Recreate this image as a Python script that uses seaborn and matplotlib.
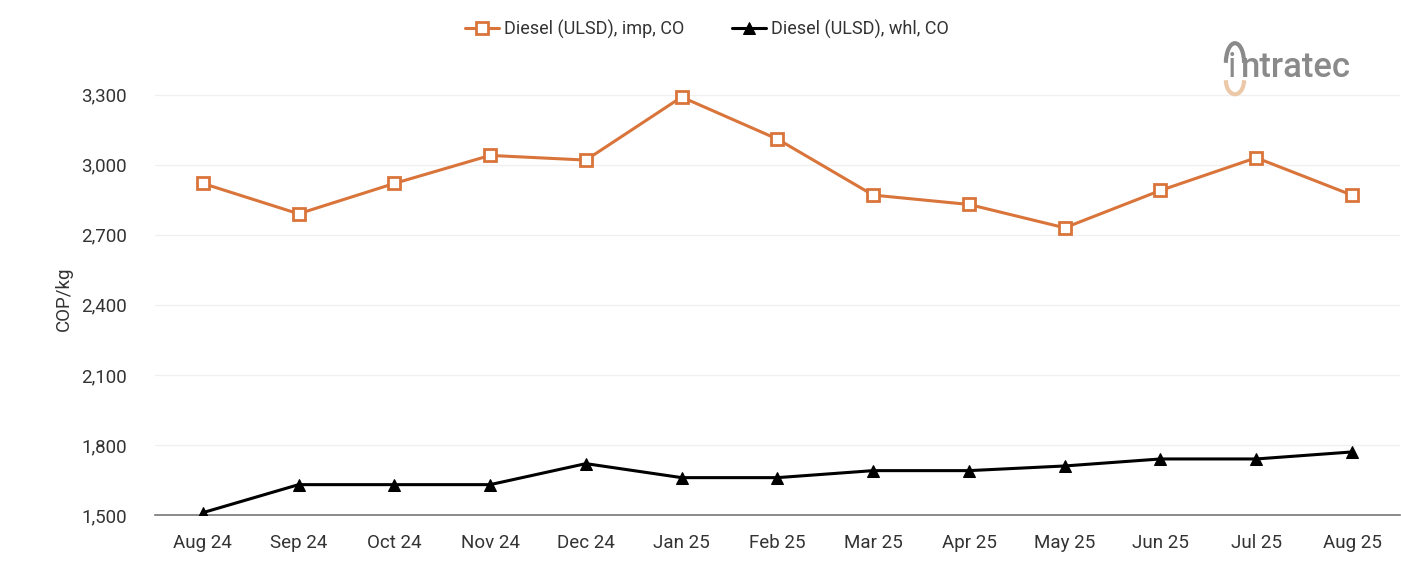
import matplotlib
matplotlib.use("Agg")
import matplotlib.pyplot as plt
import seaborn as sns
import pandas as pd
from matplotlib.ticker import FuncFormatter
from matplotlib.patches import Arc

months = ["Aug 24", "Sep 24", "Oct 24", "Nov 24", "Dec 24", "Jan 25", "Feb 25",
          "Mar 25", "Apr 25", "May 25", "Jun 25", "Jul 25", "Aug 25"]
imp_values = [2920, 2790, 2920, 3040, 3020, 3290, 3110, 2870, 2830, 2730, 2890, 3030, 2870]
whl_values = [1510, 1630, 1630, 1630, 1720, 1660, 1660, 1690, 1690, 1710, 1740, 1740, 1770]
imp_label = "Diesel (ULSD), imp, CO"
whl_label = "Diesel (ULSD), whl, CO"
y_ticks = [1500, 1800, 2100, 2400, 2700, 3000, 3300]

sns.set_theme(style="white")
plt.rcParams['font.family'] = ['Roboto', 'DejaVu Sans']

df_imp = pd.DataFrame({"x": range(len(months)), "y": imp_values})
df_whl = pd.DataFrame({"x": range(len(months)), "y": whl_values})

fig = plt.figure(figsize=(14.01, 5.61), dpi=100)
ax = fig.add_axes([0.1106, 0.082, 0.8886, 0.770])

orange = "#D9743A"
sns.lineplot(data=df_imp, x="x", y="y", ax=ax, color=orange, linewidth=2.2,
             marker="s", markersize=8, markerfacecolor="white",
             markeredgecolor=orange, markeredgewidth=2, label=imp_label, legend=False)
sns.lineplot(data=df_whl, x="x", y="y", ax=ax, color="black", linewidth=2.2,
             marker="^", markersize=9, markerfacecolor="black",
             markeredgecolor="black", label=whl_label, legend=False)

ax.set_xlim(-0.5, len(months) - 0.5)
ax.set_ylim(1500, 3350)
ax.set_xticks(range(len(months)))
ax.set_xticklabels(months)
ax.set_yticks(y_ticks)
ax.yaxis.set_major_formatter(FuncFormatter(lambda v, p: f"{int(v):,}"))
ax.tick_params(axis="both", labelsize=13.5, colors="#333333", length=0)
ax.tick_params(axis="x", pad=14)
ax.tick_params(axis="y", pad=20)
ax.set_xlabel("")
ax.set_ylabel("COP/kg", fontsize=13.5, color="#333333", labelpad=6)
ax.grid(axis="y", color="#f0f0f0", linewidth=1)
ax.set_axisbelow(True)
for s in ["top", "right", "left"]:
    ax.spines[s].set_visible(False)
ax.spines["bottom"].set_color("#777777")
ax.spines["bottom"].set_linewidth(1.2)
ax.spines["bottom"].set_zorder(1)

handles = ax.get_lines()[:2]
leg = fig.legend(handles=handles, labels=[imp_label, whl_label], loc="center",
                 bbox_to_anchor=(0.5045, 0.948), ncol=2, frameon=False,
                 fontsize=13, handlelength=1.9, columnspacing=2.6, handletextpad=0.3)
for t in leg.get_texts():
    t.set_color("#333333")

# logo
fig.text(0.8765, 0.880, "i", fontsize=25, color="#8a8a8a", ha="left", va="center")
fig.text(0.8855, 0.880, "ntratec", fontsize=25, color="#8a8a8a", ha="left", va="center",
         fontweight="medium")
fig.add_artist(Arc((0.8815, 0.888), 0.013, 0.07, theta1=0, theta2=180,
                   transform=fig.transFigure, color="#8a8a8a", lw=3))
fig.add_artist(Arc((0.8815, 0.857), 0.013, 0.05, theta1=180, theta2=360,
                   transform=fig.transFigure, color="#EBC9A8", lw=3))

fig.savefig("out.png", dpi=100)
